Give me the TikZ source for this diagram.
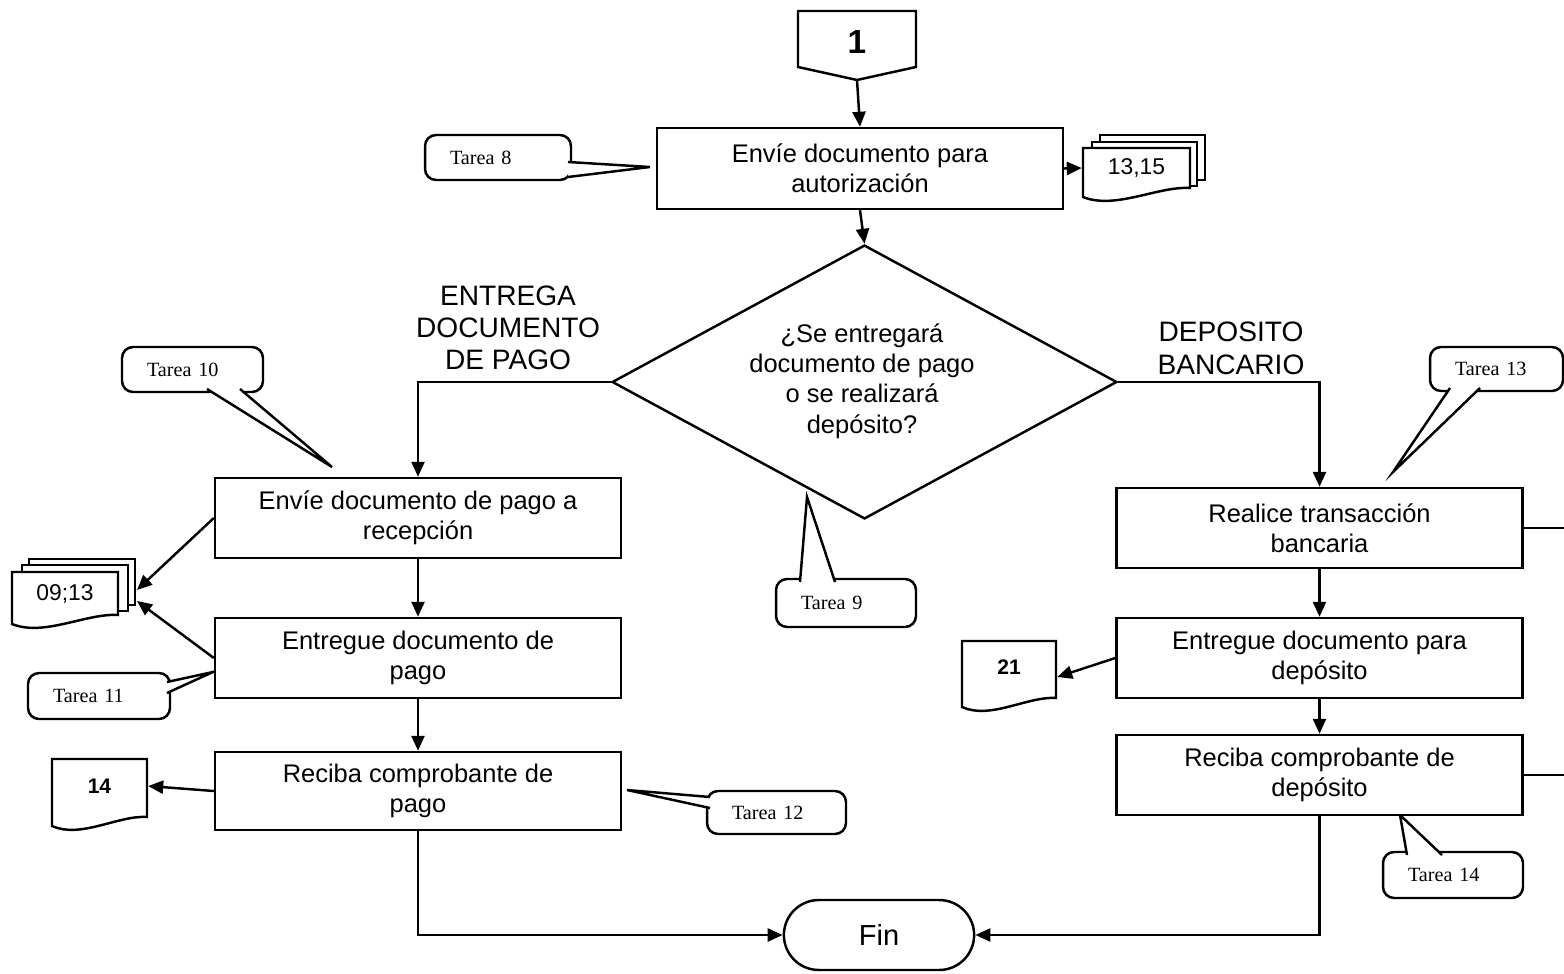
\documentclass[tikz,border=0pt]{standalone}
\usepackage{fontspec}
\setmainfont{Liberation Sans}
\newfontfamily\tmsfont{Liberation Serif}
\usetikzlibrary{arrows.meta,shapes.geometric,shapes.misc,calc}

% document symbol: top-left corner (#1,#2), right edge ends at (#3,#4), wavy bottom
\newcommand\docdraw[4]{%
  \draw[docst] (#1,#2) -- (#3,#2) -- (#3,#4)
    .. controls ({#3-0.3*(#3-#1)},{#4-2}) and ({#1+0.3*(#3-#1)},{#4+22}) .. (#1,{#4+9}) -- cycle;}
% callout pointer: base point, tip, base point
\newcommand\calloutptr[3]{%
  \fill[white] #1 -- #2 -- #3 -- cycle;
  \draw[line join=miter] #1 -- #2 -- #3;}

\begin{document}
\begin{tikzpicture}[x=0.02cm,y=-0.02cm,line width=1.4pt,
  arr/.style={-{Triangle[length=3mm,width=2.6mm]}},
  proc/.style={draw,fill=white,minimum width=8.12cm,minimum height=1.6cm,
    align=center,inner sep=2pt,font=\fontsize{14.5}{17}\selectfont},
  callout/.style={draw,fill=white,rounded corners=0.22cm,align=left,
    inner xsep=0.5cm,inner ysep=0pt,font=\tmsfont\fontsize{11.5}{13}\selectfont},
  docst/.style={draw,fill=white},
  doctext/.style={inner sep=0pt,font=\fontsize{13}{15}\selectfont},
  lbl/.style={align=center,font=\fontsize{16}{18.3}\selectfont}
]
\useasboundingbox (0,0) rectangle (1564,973);

% ---- callouts ----
\node[callout,text width=1.92cm,minimum height=0.9cm] (t8) at (498,157.5) {Tarea 8};
\calloutptr{(568,162)}{(650,167)}{(568,177)}
\node[callout,text width=1.82cm,minimum height=0.9cm] (t10) at (192.5,369.5) {Tarea 10};
\calloutptr{(207,389)}{(332,467)}{(240,389)}
\node[callout,text width=1.84cm,minimum height=0.92cm] (t11) at (99,696) {Tarea 11};
\calloutptr{(167,682)}{(213,672)}{(167,693)}
\node[callout,text width=1.78cm,minimum height=0.86cm] (t12) at (776.5,812.5) {Tarea 12};
\calloutptr{(710,797)}{(627,790)}{(710,808)}
\node[callout,text width=1.8cm,minimum height=0.96cm] (t9) at (846,603) {Tarea 9};
\calloutptr{(800,582)}{(807,497)}{(835,582)}
\node[callout,text width=1.66cm,minimum height=0.88cm] (t13) at (1496.5,369) {Tarea 13};
\calloutptr{(1450,388)}{(1393,472)}{(1480,388)}
\node[callout,text width=1.8cm,minimum height=0.92cm] (t14) at (1453,875) {Tarea 14};
\calloutptr{(1407,855)}{(1400,815)}{(1442,855)}

% ---- off-page connector ----
\draw[fill=white] (798,11) -- (916,11) -- (916,67) -- (857,80) -- (798,67) -- cycle;
\node[font=\bfseries\fontsize{19}{22}\selectfont] (c1) at (857,42) {1};
\coordinate (c1tip) at (857,80);

% ---- process boxes ----
\node[proc,minimum height=1.62cm] (b1) at (860,168.5) {Envíe documento para\\autorización};
\node[proc] (b2) at (418,518) {Envíe documento de pago a\\recepción};
\node[proc] (b3) at (418,658) {Entregue documento de\\pago};
\node[proc,minimum height=1.56cm] (b4) at (418,791) {Reciba comprobante de\\pago};
\node[proc] (b5) at (1319.5,528) {Realice transacción\\bancaria};
\node[proc] (b6) at (1319.5,658) {Entregue documento para\\depósito};
\node[proc] (b7) at (1319.5,775) {Reciba comprobante de\\depósito};

% ---- decision ----
\node[draw,diamond,minimum width=10.1cm,minimum height=5.48cm,inner sep=0pt] (dia) at (864.5,382) {};
\node[align=center,font=\fontsize{14.5}{17.3}\selectfont] (diat) at (862,381)
  {¿Se entregará\\documento de pago\\o se realizará\\depósito?};

% ---- end ----
\node[draw,rounded rectangle,minimum width=4.04cm,minimum height=1.4cm,
  font=\fontsize{16.5}{19}\selectfont] (fin) at (879,935) {Fin};

% ---- branch labels ----
\node[lbl] (lent) at (508,328) {ENTREGA\\DOCUMENTO\\DE PAGO};
\node[lbl,font=\fontsize{16}{18.7}\selectfont] (ldep) at (1231,348.5) {DEPOSITO\\BANCARIO};

% ---- documents ----
\draw[docst] (1100,135) rectangle (1205,180);
\draw[docst] (1092,142) rectangle (1197,186);
\docdraw{1083}{148}{1190}{188}
\node[doctext,minimum width=2.14cm,minimum height=0.8cm] (d1315) at (1136.5,168) {13,15};

\draw[docst] (29,559) rectangle (135,605);
\draw[docst] (22,565) rectangle (128,611);
\docdraw{12}{572}{118}{615}
\node[doctext,minimum width=2.12cm,minimum height=0.86cm] (d0913) at (65,593.5) {09;13};
\coordinate (stack0913) at (137,594);

\docdraw{52}{759}{147}{817}
\node[doctext,font=\bfseries\fontsize{12}{14}\selectfont,minimum width=1.9cm,minimum height=1.16cm] (d14) at (99.5,786) {14};
\docdraw{962}{641}{1056}{698}
\node[doctext,font=\bfseries\fontsize{12}{14}\selectfont,minimum width=1.88cm,minimum height=1.14cm] (d21) at (1009,667) {21};

% ---- connectors ----
\draw[arr] (c1tip) -- (b1.north);
\draw[arr] (b1.south) -- (dia.north);
\draw[arr] (b1.east) -- (d1315.west);
\draw[arr] (dia.west) -| (b2.north);
\draw[arr] (dia.east) -| (b5.north);
\draw[arr] (b2.south) -- (b3.north);
\draw[arr] (b3.south) -- (b4.north);
\draw[arr] (b5.south) -- (b6.north);
\draw[arr] (b6.south) -- (b7.north);
\draw[arr] (b4.south) |- (fin.west);
\draw[arr] (b7.south) |- (fin.east);
\draw[arr] (b2.west) -- ($(stack0913)+(0,-4)$);
\draw[arr] (b3.west) -- ($(stack0913)+(0,7)$);
\draw[arr] (b4.west) -- (d14.east);
\draw[arr] (b6.west) -- ($(d21.east)+(0,10)$);
\coordinate (e5) at (1570,528);
\coordinate (e7) at (1570,775);
\draw (b5.east) -- (e5);
\draw (b7.east) -- (e7);
\end{tikzpicture}
\end{document}
